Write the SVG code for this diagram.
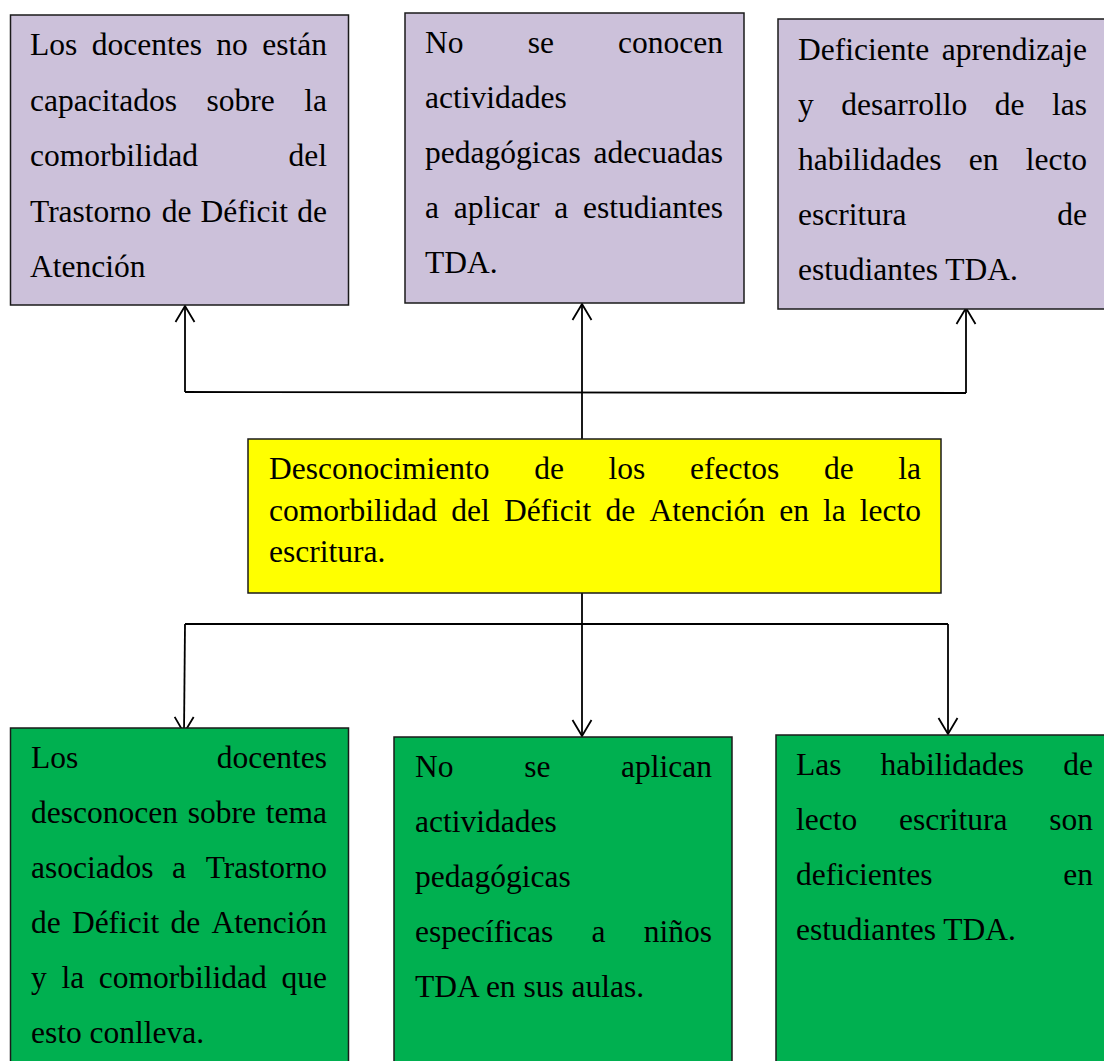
<svg xmlns="http://www.w3.org/2000/svg" width="1104" height="1061" viewBox="0 0 1104 1061">
<style>
.box{stroke:#1a1a1a;stroke-width:1.5}
.p{fill:#CCC1DA}
.y{fill:#FFFF00}
.g{fill:#00B050}
text{font-family:"Liberation Serif","Times New Roman",serif;font-size:31.5px;fill:#000}
.e{text-anchor:end}
.c{fill:none;stroke:#000;stroke-width:1.8}
</style>
<defs>
<marker id="arr" viewBox="-18 -11 20 22" refX="0" refY="0" markerWidth="20" markerHeight="22" markerUnits="userSpaceOnUse" orient="auto" overflow="visible">
<path d="M-16,-9.5 L0,0 L-16,9.5" fill="none" stroke="#000" stroke-width="1.8"/>
</marker>
</defs>
<rect width="1104" height="1061" fill="#fff"/>

<g id="connectors">
<path class="c" d="M185,392 L966,393"/>
<path class="c" d="M185,392 L185,306" marker-end="url(#arr)"/>
<path class="c" d="M582,439 L582,304" marker-end="url(#arr)"/>
<path class="c" d="M966,393 L966,308" marker-end="url(#arr)"/>
<path class="c" d="M185,624 L948,624"/>
<path class="c" d="M582,593 L582,736" marker-end="url(#arr)"/>
<path class="c" d="M185,624 L184,733" marker-end="url(#arr)"/>
<path class="c" d="M948,624 L948,734" marker-end="url(#arr)"/>
</g>

<g id="efecto1">
<rect class="box p" x="10.5" y="15" width="338" height="290"/>
<text y="55"><tspan x="30">Los</tspan><tspan x="91.7">docentes</tspan><tspan x="216.3">no</tspan><tspan x="327" class="e">están</tspan></text>
<text y="110.5"><tspan x="30">capacitados</tspan><tspan x="206.5">sobre</tspan><tspan x="327" class="e">la</tspan></text>
<text y="166"><tspan x="30">comorbilidad</tspan><tspan x="327" class="e">del</tspan></text>
<text y="221.5"><tspan x="30">Trastorno</tspan><tspan x="161.7">de</tspan><tspan x="200.6">Déficit</tspan><tspan x="327" class="e">de</tspan></text>
<text y="277" x="30">Atención</text>
</g>

<g id="efecto2">
<rect class="box p" x="405" y="13" width="339" height="290"/>
<text y="53"><tspan x="425">No</tspan><tspan x="527.7">se</tspan><tspan x="723" class="e">conocen</tspan></text>
<text y="108" x="425">actividades</text>
<text y="163"><tspan x="425">pedagógicas</tspan><tspan x="723" class="e">adecuadas</tspan></text>
<text y="218"><tspan x="425">a</tspan><tspan x="453.8">aplicar</tspan><tspan x="554.2">a</tspan><tspan x="723" class="e">estudiantes</tspan></text>
<text y="272.5" x="425">TDA.</text>
</g>

<g id="efecto3">
<rect class="box p" x="778" y="19" width="340" height="290"/>
<text y="60"><tspan x="798">Deficiente</tspan><tspan x="1087" class="e">aprendizaje</tspan></text>
<text y="115"><tspan x="798">y</tspan><tspan x="841.3">desarrollo</tspan><tspan x="994.8">de</tspan><tspan x="1087" class="e">las</tspan></text>
<text y="170"><tspan x="798">habilidades</tspan><tspan x="968.8">en</tspan><tspan x="1087" class="e">lecto</tspan></text>
<text y="225"><tspan x="798">escritura</tspan><tspan x="1087" class="e">de</tspan></text>
<text y="280" x="798">estudiantes TDA.</text>
</g>

<g id="problema">
<rect class="box y" x="248" y="439" width="693" height="154"/>
<text y="479"><tspan x="269">Desconocimiento</tspan><tspan x="534.2">de</tspan><tspan x="608.6">los</tspan><tspan x="690.1">efectos</tspan><tspan x="824">de</tspan><tspan x="921" class="e">la</tspan></text>
<text y="520.5"><tspan x="269">comorbilidad</tspan><tspan x="451.2">del</tspan><tspan x="503.9">Déficit</tspan><tspan x="605.6">de</tspan><tspan x="649.5">Atención</tspan><tspan x="779.2">en</tspan><tspan x="823.1">la</tspan><tspan x="921" class="e">lecto</tspan></text>
<text y="562" x="269">escritura.</text>
</g>

<g id="causa1">
<rect class="box g" x="10.5" y="728" width="338" height="345"/>
<text y="768"><tspan x="31">Los</tspan><tspan x="327" class="e">docentes</tspan></text>
<text y="823"><tspan x="31">desconocen</tspan><tspan x="187.8">sobre</tspan><tspan x="327" class="e">tema</tspan></text>
<text y="878"><tspan x="31">asociados</tspan><tspan x="172">a</tspan><tspan x="327" class="e">Trastorno</tspan></text>
<text y="933"><tspan x="31">de</tspan><tspan x="71.9">Déficit</tspan><tspan x="170.6">de</tspan><tspan x="327" class="e">Atención</tspan></text>
<text y="988"><tspan x="31">y</tspan><tspan x="61.4">la</tspan><tspan x="98.8">comorbilidad</tspan><tspan x="327" class="e">que</tspan></text>
<text y="1043" x="31">esto conlleva.</text>
</g>

<g id="causa2">
<rect class="box g" x="394" y="737" width="338" height="336"/>
<text y="777"><tspan x="415">No</tspan><tspan x="524.2">se</tspan><tspan x="712" class="e">aplican</tspan></text>
<text y="832" x="415">actividades</text>
<text y="887" x="415">pedagógicas</text>
<text y="942"><tspan x="415">específicas</tspan><tspan x="591.5">a</tspan><tspan x="712" class="e">niños</tspan></text>
<text y="997" x="415">TDA en sus aulas.</text>
</g>

<g id="causa3">
<rect class="box g" x="776" y="735" width="340" height="338"/>
<text y="775"><tspan x="796">Las</tspan><tspan x="880.6">habilidades</tspan><tspan x="1093" class="e">de</tspan></text>
<text y="830"><tspan x="796">lecto</tspan><tspan x="899">escritura</tspan><tspan x="1093" class="e">son</tspan></text>
<text y="885"><tspan x="796">deficientes</tspan><tspan x="1093" class="e">en</tspan></text>
<text y="940" x="796">estudiantes TDA.</text>
</g>
</svg>
